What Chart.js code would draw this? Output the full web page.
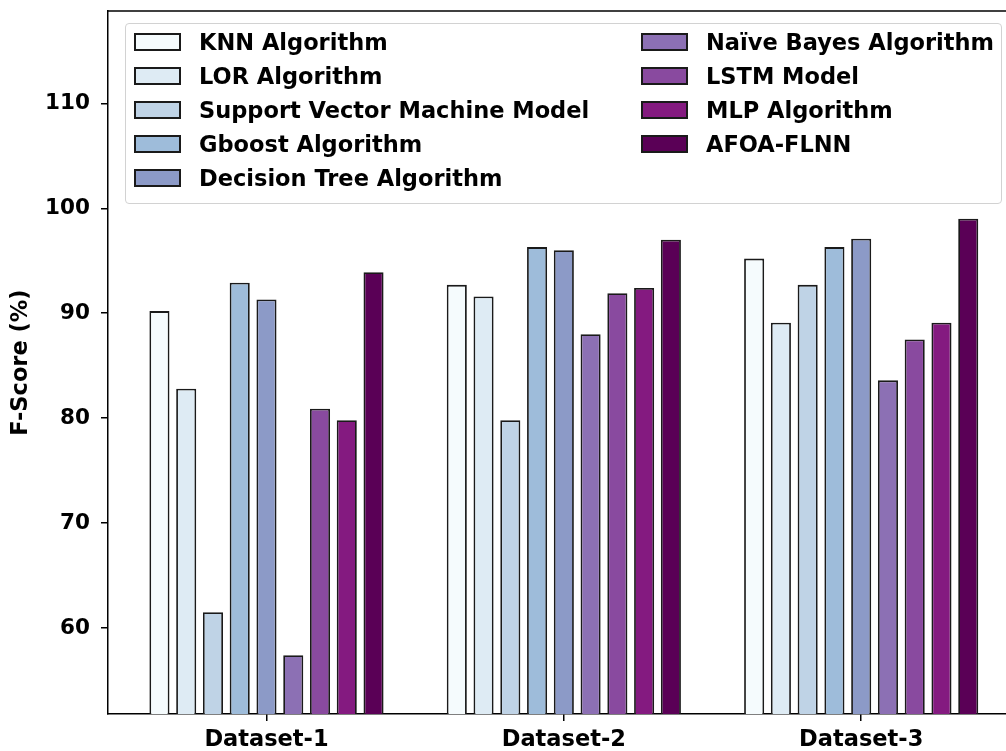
<!DOCTYPE html>
<html>
<head>
<meta charset="utf-8">
<script src="https://cdn.jsdelivr.net/npm/chart.js@4/dist/chart.umd.min.js"></script>
<style>
  html, body { margin: 0; padding: 0; background: #fff; }
  #wrap { position: relative; width: 1006px; height: 751px; }
  #legend {
    position: absolute; left: 125px; top: 23px; width: 875px; height: 178px;
    padding-top: 1px;
    border: 1px solid #d2d2d2; border-radius: 4px; background: rgba(255,255,255,0.85);
    display: grid; grid-template-columns: 507px auto; grid-template-rows: repeat(5, 34.1px);
    grid-auto-flow: column;
    font: bold 22.5px "DejaVu Sans", sans-serif; color: #000;
  }
  .item { display: flex; align-items: center; padding-left: 8px; white-space: nowrap; }
  .swatch { width: 43px; height: 14px; border: 2px solid #1a1a1a; margin-right: 18px; box-sizing: content-box; }
</style>
</head>
<body>
<div id="wrap">
  <canvas id="scoreChart"></canvas>
  <div id="legend"></div>
</div>
<script>
// F-Score per dataset, grouped bars

const categories = ['Dataset-1', 'Dataset-2', 'Dataset-3'];
const seriesNames = ['KNN Algorithm', 'LOR Algorithm', 'Support Vector Machine Model', 'Gboost Algorithm',
  'Decision Tree Algorithm', 'Naïve Bayes Algorithm', 'LSTM Model', 'MLP Algorithm', 'AFOA-FLNN'];

const knn          = [90.2, 92.7, 95.2];
const lor          = [82.8, 91.6, 89.1];
const svm          = [61.5, 79.8, 92.7];
const gboost       = [92.9, 96.3, 96.3];
const decisionTree = [91.3, 96.0, 97.1];
const naiveBayes   = [57.4, 88.0, 83.6];
const lstm         = [80.9, 91.9, 87.5];
const mlp          = [79.8, 92.4, 89.1];
const afoa         = [93.9, 97.0, 99.0];

const yTicks = [60, 70, 80, 90, 100, 110];

const series = [knn, lor, svm, gboost, decisionTree, naiveBayes, lstm, mlp, afoa];
const colors = ['#f5fbfd', '#deebf4', '#bfd3e6', '#9ebcda', '#8c9ac7', '#8c70b4', '#894a9f', '#841a80', '#5a0056'];

const font = { family: 'DejaVu Sans', size: 22.5, weight: 'bold' };
const yFont = { family: 'DejaVu Sans', size: 21.5, weight: 'bold' };

// top spine (matplotlib-style frame, right side runs off the picture)
const topSpine = {
  id: 'topSpine',
  afterDraw(chart) {
    const { ctx, chartArea } = chart;
    ctx.save();
    ctx.strokeStyle = '#000';
    ctx.lineWidth = 1.5;
    ctx.beginPath();
    ctx.moveTo(chartArea.left, chartArea.top);
    ctx.lineTo(chartArea.right, chartArea.top);
    ctx.stroke();
    ctx.restore();
  },
};

const ctx = document.getElementById('scoreChart').getContext('2d');
new Chart(ctx, {
  type: 'bar',
  data: {
    datasets: series.map((vals, i) => ({
      label: seriesNames[i],
      data: vals.map((v, j) => ({ x: j, y: v })),
      backgroundColor: colors[i],
      borderColor: '#1a1a1a',
      borderWidth: 1.8,
      borderSkipped: false,
      categoryPercentage: 0.81,
      barPercentage: 0.75,
    })),
  },
  options: {
    responsive: true,
    maintainAspectRatio: false,
    animation: false,
    layout: { padding: { top: 11, right: 0, left: 0, bottom: 0 } },
    plugins: { legend: { display: false }, tooltip: { enabled: false } },
    scales: {
      x: {
        type: 'linear',
        offset: false,
        min: -0.533,
        max: 2.487,
        afterBuildTicks: axis => { axis.ticks = categories.map((c, i) => ({ value: i })); },
        afterFit: axis => { axis.height = 37; axis.paddingLeft = 0; axis.paddingRight = 0; },
        grid: { offset: false, drawOnChartArea: false, drawTicks: true, tickLength: 7, color: '#000', lineWidth: 1.5 },
        border: { display: true, color: '#000', width: 1.5 },
        ticks: { font, color: '#000', padding: 6, maxRotation: 0, autoSkip: false, callback: v => categories[v] },
      },
      y: {
        min: 51.8,
        max: 118.8,
        afterBuildTicks: axis => { axis.ticks = yTicks.map(v => ({ value: v })); },
        afterFit: axis => { axis.width = 108; axis.paddingTop = 0; axis.paddingBottom = 0; },
        grid: { drawOnChartArea: false, drawTicks: true, tickLength: 7, color: '#000', lineWidth: 1.5 },
        border: { display: true, color: '#000', width: 1.5 },
        ticks: { font: yFont, color: '#000', padding: 11 },
        title: { display: true, text: 'F-Score (%)', font, color: '#000', padding: { top: 7.5, bottom: 0 } },
      },
    },
  },
  plugins: [topSpine],
});

// two-column legend, filled column by column like matplotlib
const legend = document.getElementById('legend');
seriesNames.forEach((name, i) => {
  const item = document.createElement('div');
  item.className = 'item';
  const sw = document.createElement('span');
  sw.className = 'swatch';
  sw.style.background = colors[i];
  const label = document.createElement('span');
  label.textContent = name;
  item.appendChild(sw);
  item.appendChild(label);
  legend.appendChild(item);
});
</script>
</body>
</html>
